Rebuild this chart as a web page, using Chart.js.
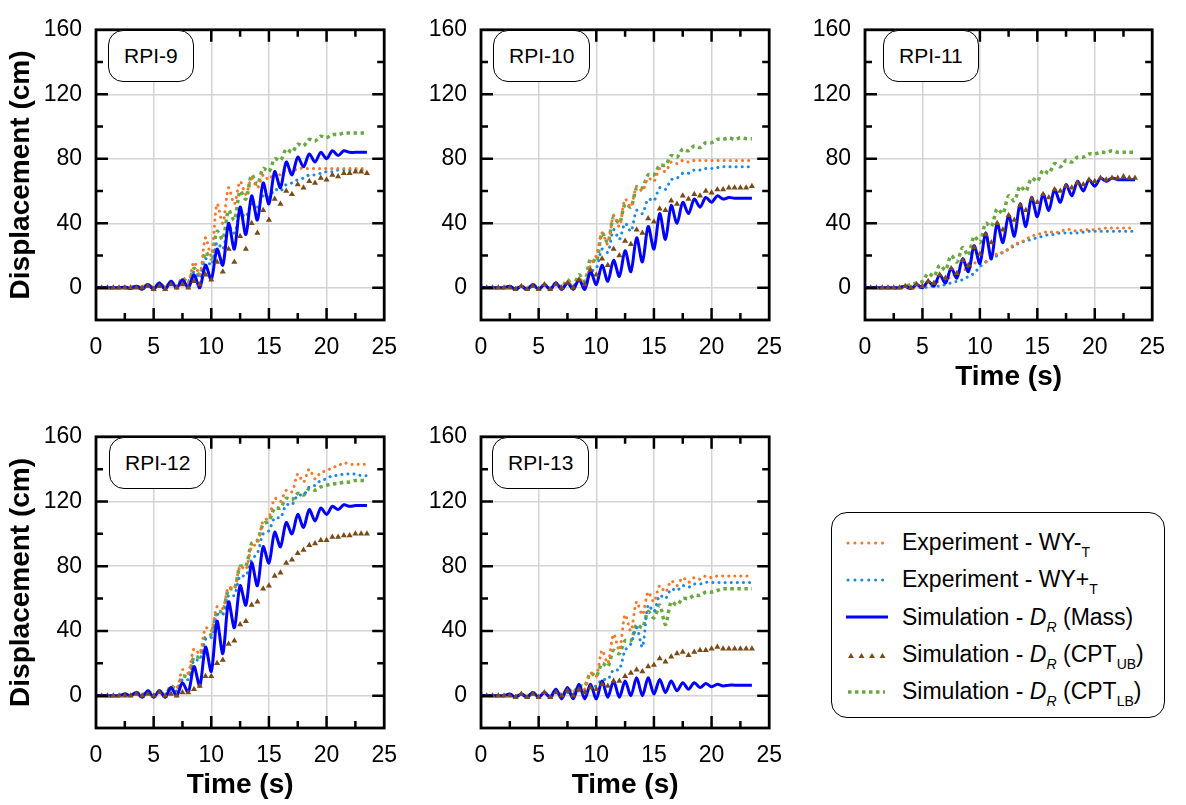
<!DOCTYPE html>
<html>
<head>
<meta charset="utf-8">
<title>Displacement time histories</title>
<script src="https://cdn.jsdelivr.net/npm/chart.js@4.4.0/dist/chart.umd.min.js"></script>
<style>
  body { margin: 0; background: #fff; font-family: "Liberation Sans", Arial, sans-serif; color: #000; }
  #page { position: relative; width: 1186px; height: 805px; overflow: hidden; }
  .panel { position: absolute; }
  .tag {
    position: absolute; box-sizing: border-box; height: 52px; line-height: 49px;
    padding: 0 15px; border: 1.5px solid #000; border-radius: 15px;
    font-size: 21px; background: #fff; white-space: nowrap;
  }
  #legend {
    position: absolute; left: 831px; top: 512px; width: 334px; height: 206px;
    box-sizing: border-box; border: 1.5px solid #000; border-radius: 16px;
    padding-top: 11px; font-size: 23px;
  }
  #legend .row { height: 37.3px; display: flex; align-items: center; white-space: nowrap; }
  #legend svg { margin-left: 13px; margin-right: 13px; flex: none; }
  .sub { font-size: 14px; position: relative; top: 7px; }
</style>
</head>
<body>
<div id="page"></div>
<script>
// time axis shared by every series (s)
const time = [0, 0.5, 1, 1.5, 2, 2.5, 3, 3.5, 4, 4.5, 5, 5.5,
              6, 6.5, 7, 7.5, 8, 8.5, 9, 9.5, 10, 10.5, 11, 11.5,
              12, 12.5, 13, 13.5, 14, 14.5, 15, 15.5, 16, 16.5, 17, 17.5,
              18, 18.5, 19, 19.5, 20, 20.5, 21, 21.5, 22, 22.5, 23, 23.5];

const panelNames = ['RPI-9', 'RPI-10', 'RPI-11', 'RPI-12', 'RPI-13'];
const xTickStep = 5;
const yTickValues = [0, 40, 80, 120, 160];

// RPI-9 displacements (cm)
const rpi9ExpMinus = [0, 0, 0, 0, 0, 0, 0, 1, 0, 2, 0, 3,
                      0, 4, 1, 6, 3, 16, 8, 31, 20, 52, 40, 62,
                      52, 66, 58, 68, 62, 70, 67, 72, 70, 73, 72, 74,
                      74, 74, 74, 74, 74, 74, 74, 74, 74, 74, 74, 74];
const rpi9ExpPlus = [0, 0, 0, 0, 0, 0, 0, 1, 0, 1, 0, 2,
                     0, 3, 0, 4, 2, 10, 6, 18, 14, 28, 24, 38,
                     34, 46, 44, 52, 50, 57, 56, 61, 60, 64, 65, 67,
                     68, 70, 70, 71, 72, 72, 73, 73, 73, 73, 73, 73];
const rpi9Mass = [0, 0, 0, 0, 0, 0.5, -0.5, 1, -1, 2, -1, 3,
                  -1, 4, 0, 5, 0, 8, 0, 14, 5, 24, 14, 40,
                  24, 50, 33, 57, 42, 65, 52, 72, 62, 78, 70, 81,
                  75, 83, 78, 84, 80, 85, 82, 85, 84, 84, 84, 84];
const rpi9CptUB = [0, 0, 0, 0, 0, 0, 0, 0, 0, 1, -1, 1,
                   -1, 2, 0, 2, 0, 4, 2, 8, 5, 16, 10, 24,
                   16, 32, 24, 40, 34, 48, 42, 55, 52, 60, 58, 64,
                   62, 66, 65, 68, 67, 70, 69, 71, 71, 72, 72, 71];
const rpi9CptLB = [0, 0, 0, 0, 0, 0, 0, 1, 0, 2, 0, 3,
                   0, 4, 0, 6, 3, 12, 8, 22, 18, 35, 30, 48,
                   42, 60, 55, 70, 64, 74, 72, 80, 79, 86, 84, 89,
                   88, 92, 91, 94, 93, 95, 95, 96, 96, 96, 96, 96];

// RPI-10
const rpi10ExpMinus = [0, 0, 0, 0, 0, 0.5, -0.5, 1, -1, 1, -1, 2,
                       -1, 3, 0, 4, 1, 6, 2, 14, 20, 34, 27, 45,
                       38, 55, 50, 63, 60, 68, 66, 74, 72, 78, 77, 79,
                       78, 79, 79, 79, 79, 79, 79, 79, 79, 79, 79, 79];
const rpi10ExpPlus = [0, 0, 0, 0, 0, 0.5, -0.5, 1, -1, 1, -1, 2,
                      -1, 3, 0, 3, 1, 5, 2, 10, 12, 24, 22, 36,
                      30, 40, 35, 48, 46, 55, 54, 62, 61, 67, 68, 71,
                      71, 73, 73, 74, 74, 74.5, 75, 75, 75, 75, 75, 75];
const rpi10Mass = [0, 0, 0, 0, 0, 1, -1, 1, -1, 2, -1, 2,
                   -1, 3, -1, 3, -1, 5, -1, 10, 2, 14, 4, 17,
                   7, 23, 10, 31, 16, 38, 24, 46, 30, 51, 40, 53,
                   46, 55, 50, 56, 53, 57, 55, 56, 55.5, 55.5, 55.5, 55.5];
const rpi10CptUB = [0, 0, 0, 0, 0, 0, -1, 1, -1, 1, -1, 2,
                    -1, 2, 0, 3, 0, 5, 2, 11, 8, 18, 14, 24,
                    20, 29, 27, 36, 34, 43, 41, 49, 48, 54, 52, 57,
                    55, 58, 57, 60, 59, 61, 61, 62, 62, 62, 62, 63];
const rpi10CptLB = [0, 0, 0, 0, 0, 0.5, -0.5, 1, -1, 2, -1, 2,
                    -1, 3, 0, 5, 1, 8, 4, 18, 16, 34, 28, 44,
                    40, 52, 50, 62, 62, 70, 70, 76, 76, 82, 81, 86,
                    85, 88, 87, 90, 90, 92, 92, 93, 92, 93, 92.5, 92.5];

// RPI-11
const rpi11ExpMinus = [0, 0, 0, 0, 0, 0, 0, 0, 0, 0, 1, 2,
                       3, 4, 5, 7, 9, 11, 12, 15, 17, 16, 19, 21,
                       22, 24, 27, 28, 30, 32, 33, 34, 35, 34, 35, 36,
                       36, 35, 36, 36, 36, 36.5, 37, 37, 37, 37, 37, 37];
const rpi11ExpPlus = [0, 0, 0, 0, 0, 0, 0, 0, 0, 0, 0, 0.5,
                      1, 1, 2, 3, 4, 5, 7, 9, 13, 16, 18, 20,
                      22, 24, 26, 28, 29, 30, 31, 32, 33, 33, 34, 34,
                      34, 34, 34.5, 35, 35, 35, 35, 35, 35, 35, 35, 35];
const rpi11Mass = [0, 0, 0, 0, 0, 0, 0, 1, -0.5, 2, 0, 4,
                   1, 8, 3, 12, 6, 18, 10, 26, 15, 34, 18, 40,
                   28, 45, 32, 52, 38, 56, 44, 58, 48, 61, 53, 64,
                   57, 66, 60, 67, 63, 68, 66, 68, 67, 67, 67, 67];
const rpi11CptUB = [0, 0, 0, 0, 0, 0, 0, 1, 0, 2, 1, 4,
                    3, 8, 6, 12, 9, 17, 14, 25, 21, 33, 28, 40,
                    36, 45, 42, 51, 48, 55, 53, 58, 56, 61, 60, 63,
                    62, 65, 64, 67, 66, 68, 67, 68, 68, 69, 68, 68];
const rpi11CptLB = [0, 0, 0, 0, 0, 0, 0, 1, 2, 3, 4, 9,
                    7, 14, 11, 20, 16, 25, 20, 32, 28, 40, 38, 49,
                    46, 57, 54, 63, 60, 68, 66, 73, 71, 77, 75, 79,
                    78, 81, 81, 83, 83, 84, 84, 85, 84, 84, 84, 84];

// RPI-12
const rpi12ExpMinus = [0, 0, 0, 0, 0, 1, 0, 2, 0, 2, 0, 3,
                       0, 6, 4, 16, 14, 29, 26, 42, 40, 55, 54, 67,
                       66, 80, 78, 92, 94, 108, 110, 122, 120, 127, 126, 137,
                       132, 140, 134, 138, 139, 141, 142, 144, 143, 143, 143, 143];
const rpi12ExpPlus = [0, 0, 0, 0, 0, 1, 0, 2, 0, 2, 0, 3,
                      0, 4, 3, 10, 10, 22, 22, 35, 36, 50, 50, 62,
                      62, 74, 74, 84, 88, 100, 102, 110, 110, 118, 118, 124,
                      124, 129, 130, 133, 134, 136, 136, 137, 137, 137, 136, 136];
const rpi12Mass = [0, 0, 0, 0, 0, 1, 0, 2, -1, 3, -1, 3,
                   -1, 5, 0, 8, 2, 18, 6, 30, 15, 46, 26, 58,
                   42, 68, 56, 82, 68, 92, 82, 101, 92, 107, 100, 112,
                   104, 115, 108, 116, 112, 117, 115, 118, 117, 117.5, 117.5, 117.5];
const rpi12CptUB = [0, 0, 0, 0, 0, 0, 0, 1, 0, 1, 0, 2,
                    0, 1, 0, 2, 2, 4, 6, 12, 12, 20, 22, 32,
                    34, 44, 46, 56, 58, 66, 68, 74, 76, 82, 84, 88,
                    90, 93, 94, 96, 96, 98, 98, 99, 99, 100, 100, 100];
const rpi12CptLB = [0, 0, 0, 0, 0, 1, 0, 2, 0, 3, 0, 3,
                    0, 6, 4, 12, 12, 24, 24, 36, 38, 52, 52, 66,
                    66, 80, 80, 94, 96, 106, 108, 116, 116, 122, 121, 125,
                    124, 128, 127, 129, 130, 131, 131, 132, 132, 133, 133, 133];

// RPI-13
const rpi13ExpMinus = [0, 0, 0, 0, 0, 0.5, -0.5, 1, -1, 2, -1, 2,
                       -1, 3, 0, 3, 2, 5, 4, 14, 12, 28, 20, 38,
                       28, 50, 40, 58, 50, 64, 58, 68, 64, 71, 68, 73,
                       70, 73, 72, 74, 73, 74, 74, 74, 74, 74, 74, 74];
const rpi13ExpPlus = [0, 0, 0, 0, 0, 0.5, -0.5, 1, -1, 1, -1, 2,
                      -1, 2, 0, 2, 1, 3, 3, 6, 6, 10, 10, 16,
                      16, 28, 32, 42, 30, 56, 52, 62, 60, 66, 65, 68,
                      67, 69, 69, 70, 70, 70, 70, 70, 70, 70, 70, 70];
const rpi13Mass = [0, 0, 0, 0, 0, 1, -1, 1, -1, 2, -1, 2,
                   -1, 4, -2, 5, -2, 7, -2, 7, -2, 9, -1, 9,
                   -1, 9, 0, 11, 0, 11, 1, 10, 2, 9, 3, 8,
                   4, 8, 5, 7.5, 5.5, 7, 6, 6.5, 6.5, 6.5, 6.5, 6.5];
const rpi13CptUB = [0, 0, 0, 0, 0, 0, -1, 1, -1, 1, -1, 2,
                    -1, 2, 0, 3, 0, 4, 2, 5, 4, 7, 6, 9,
                    9, 12, 14, 16, 15, 18, 19, 23, 21, 24, 26, 27,
                    25, 27, 28, 28, 29, 30, 29, 29, 29, 29, 29, 29];
const rpi13CptLB = [0, 0, 0, 0, 0, 0.5, -0.5, 1, -1, 2, -1, 2,
                    -1, 3, 0, 4, 2, 6, 6, 14, 12, 20, 18, 28,
                    26, 34, 34, 44, 42, 52, 48, 56, 44, 58, 56, 60,
                    60, 62, 62, 64, 64, 65, 66, 66, 66, 66, 66, 66];

const panelSeries = [
  [rpi9ExpMinus, rpi9ExpPlus, rpi9Mass, rpi9CptUB, rpi9CptLB],
  [rpi10ExpMinus, rpi10ExpPlus, rpi10Mass, rpi10CptUB, rpi10CptLB],
  [rpi11ExpMinus, rpi11ExpPlus, rpi11Mass, rpi11CptUB, rpi11CptLB],
  [rpi12ExpMinus, rpi12ExpPlus, rpi12Mass, rpi12CptUB, rpi12CptLB],
  [rpi13ExpMinus, rpi13ExpPlus, rpi13Mass, rpi13CptUB, rpi13CptLB]
];

// plain-text names of the five series (the legend box adds sub/italics)
const seriesNames = ['Experiment - WY-T', 'Experiment - WY+T', 'Simulation - DR (Mass)',
                     'Simulation - DR (CPTUB)', 'Simulation - DR (CPTLB)'];

// ---- styles and layout ----
const colOrange = '#F5782A';
const colLightBlue = '#1E88E5';
const colBlue = '#0000FF';
const colBrown = '#7A4A17';
const colGreen = '#6AA842';

const seriesStyles = [
  { borderColor: colOrange, borderWidth: 3, borderDash: [0.1, 6], borderCapStyle: 'round', pointRadius: 0, order: 2 },
  { borderColor: colLightBlue, borderWidth: 3, borderDash: [0.1, 6], borderCapStyle: 'round', pointRadius: 0, order: 3 },
  { borderColor: colBlue, borderWidth: 3, pointRadius: 0, order: 1 },
  { showLine: false, pointStyle: 'triangle', pointRadius: 3.5, pointBackgroundColor: colBrown,
    pointBorderColor: colBrown, pointBorderWidth: 0, borderColor: colBrown, order: 0 },
  { borderColor: colGreen, borderWidth: 3.5, borderDash: [3.5, 3.5], pointRadius: 0, order: 4 }
];

// plot-area boxes in page pixels
const plotLeft = [96, 481, 865, 96, 481];
const plotTop = [18, 18, 18, 425, 425];
const plotWidth = [299, 299, 298, 299, 299];
const plotHeight = [302, 302, 302, 303, 303];
const tagOffset = [12, 12, 18, 13, 11];

const yAxisWidth = 96;
const xAxisHeight = 74;
const padTop = 16;
const padRight = 16;

Chart.defaults.font.family = '"Liberation Sans", Arial, sans-serif';
Chart.defaults.color = '#000';

// frame plus inward major/minor ticks on all four sides
const frameTicks = {
  id: 'frameTicks',
  afterDraw(chart) {
    const { ctx, chartArea: a, scales: { x, y } } = chart;
    ctx.save();
    ctx.strokeStyle = '#000';
    ctx.lineWidth = 2.5;
    ctx.beginPath();
    [2.5, 5, 7.5, 10, 12.5, 15, 17.5, 20, 22.5].forEach(v => {
      const px = x.getPixelForValue(v);
      const len = v % 5 === 0 ? 12 : 7;
      ctx.moveTo(px, a.bottom); ctx.lineTo(px, a.bottom - len);
      ctx.moveTo(px, a.top); ctx.lineTo(px, a.top + len);
    });
    [0, 20, 40, 60, 80, 100, 120, 140].forEach(v => {
      const py = y.getPixelForValue(v);
      const len = v % 40 === 0 ? 12 : 7;
      ctx.moveTo(a.left, py); ctx.lineTo(a.left + len, py);
      ctx.moveTo(a.right, py); ctx.lineTo(a.right - len, py);
    });
    ctx.stroke();
    ctx.lineWidth = 2.8;
    ctx.strokeRect(a.left, a.top, a.right - a.left, a.bottom - a.top);
    ctx.restore();
  }
};

function makePanel(i) {
  const page = document.getElementById('page');
  const w = yAxisWidth + plotWidth[i] + padRight;
  const h = padTop + plotHeight[i] + xAxisHeight;

  const canvas = document.createElement('canvas');
  canvas.className = 'panel';
  canvas.width = w;
  canvas.height = h;
  canvas.style.left = (plotLeft[i] - yAxisWidth) + 'px';
  canvas.style.top = (plotTop[i] - padTop) + 'px';
  page.appendChild(canvas);

  const datasets = panelSeries[i].map((values, k) => Object.assign({
    label: seriesNames[k],
    data: values.map((v, j) => ({ x: time[j], y: v })),
    tension: 0.3,
    fill: false
  }, seriesStyles[k]));

  new Chart(canvas, {
    type: 'line',
    data: { datasets: datasets },
    options: {
      responsive: false,
      animation: false,
      devicePixelRatio: 1,
      layout: { padding: { top: padTop, right: padRight, left: 0, bottom: 0 } },
      plugins: { legend: { display: false }, tooltip: { enabled: false } },
      scales: {
        x: {
          type: 'linear', min: 0, max: 25,
          ticks: { stepSize: xTickStep, padding: 14, font: { size: 23 } },
          grid: { color: '#d3d3d3', lineWidth: 1.5, drawTicks: false },
          border: { display: false },
          title: { display: i >= 2, text: 'Time (s)', font: { size: 28, weight: 'bold' }, padding: 0 },
          afterFit: s => { s.height = xAxisHeight; }
        },
        y: {
          type: 'linear', min: -20, max: 160,
          afterBuildTicks: s => { s.ticks = yTickValues.map(v => ({ value: v })); },
          ticks: { padding: 14, font: { size: 23 } },
          grid: { color: '#d3d3d3', lineWidth: 1.5, drawTicks: false },
          border: { display: false },
          title: { display: i === 0 || i === 3, text: 'Displacement (cm)',
                   font: { size: 28, weight: 'bold' }, padding: { top: 4, bottom: 0 } },
          afterFit: s => { s.width = yAxisWidth; }
        }
      }
    },
    plugins: [frameTicks]
  });

  const tag = document.createElement('div');
  tag.className = 'tag';
  tag.textContent = panelNames[i];
  tag.style.left = (plotLeft[i] + tagOffset[i]) + 'px';
  tag.style.top = (plotTop[i] + 12) + 'px';
  page.appendChild(tag);
}

function makeLegend() {
  const dots = c => `<svg width="44" height="20"><line x1="3" y1="10" x2="39" y2="10" stroke="${c}" stroke-width="3" stroke-dasharray="0.1 6.8" stroke-linecap="round"/></svg>`;
  const solid = `<svg width="44" height="20"><line x1="1" y1="10" x2="43" y2="10" stroke="${colBlue}" stroke-width="3"/></svg>`;
  const tris = `<svg width="44" height="20">` + [6, 16.5, 27, 37.5].map(cx =>
    `<polygon points="${cx - 3},13 ${cx + 3},13 ${cx},8" fill="${colBrown}"/>`).join('') + `</svg>`;
  const dashes = `<svg width="44" height="20"><line x1="3" y1="10" x2="40" y2="10" stroke="${colGreen}" stroke-width="3.5" stroke-dasharray="3.5 3.5"/></svg>`;
  const dr = '<i>D</i><i class="sub">R</i>';

  const legend = document.createElement('div');
  legend.id = 'legend';
  legend.innerHTML =
    `<div class="row">${dots(colOrange)}<span>Experiment - WY-<span class="sub">T</span></span></div>` +
    `<div class="row">${dots(colLightBlue)}<span>Experiment - WY+<span class="sub">T</span></span></div>` +
    `<div class="row">${solid}<span>Simulation - ${dr} (Mass)</span></div>` +
    `<div class="row">${tris}<span>Simulation - ${dr} (CPT<span class="sub">UB</span>)</span></div>` +
    `<div class="row">${dashes}<span>Simulation - ${dr} (CPT<span class="sub">LB</span>)</span></div>`;
  document.getElementById('page').appendChild(legend);
}

panelNames.forEach((name, i) => makePanel(i));
makeLegend();
</script>
</body>
</html>
